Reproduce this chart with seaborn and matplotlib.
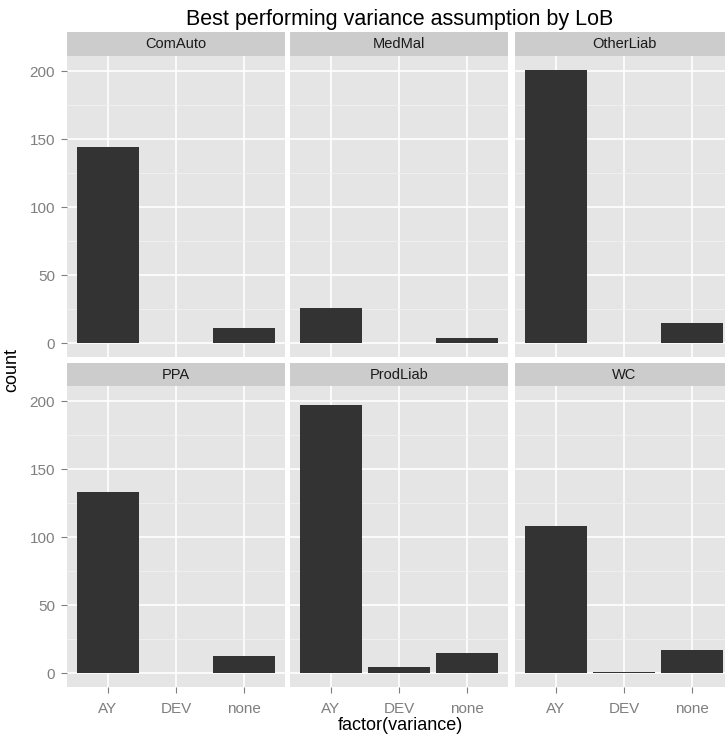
import matplotlib
matplotlib.use("Agg")
import matplotlib.pyplot as plt
import seaborn as sns
import pandas as pd

lobs = ["ComAuto", "MedMal", "OtherLiab", "PPA", "ProdLiab", "WC"]
variance = ["AY", "DEV", "none"]
comauto = [144, 0, 11]
medmal = [26, 0, 4]
otherliab = [201, 0, 15]
ppa = [133, 0, 13]
prodliab = [197, 5, 15]
wc = [108, 1, 17]
yticks = [0, 50, 100, 150, 200]
title = "Best performing variance assumption by LoB"
xlabel = "factor(variance)"
ylabel = "count"

values = [comauto, medmal, otherliab, ppa, prodliab, wc]
rows = []
for lob, vals in zip(lobs, values):
    for v, c in zip(variance, vals):
        rows.append({"LoB": lob, "variance": v, "count": c})
df = pd.DataFrame(rows)

sns.set_style("white")
plt.rcParams["font.family"] = ["Liberation Sans", "DejaVu Sans"]

W, H = 725, 739
fig = plt.figure(figsize=(W / 100, H / 100), dpi=100)

def fx(px):
    return px / W

def fy(px):
    return 1 - px / H

col_left = [67, 290, 515]
panel_w = 218
row_panel = [(56, 357), (386, 687)]
row_strip = [(32, 56), (363, 386)]

ymax = max(max(v) for v in values)
ylo, yhi = -0.05 * ymax, ymax * 1.05

for i, lob in enumerate(lobs):
    r, c = divmod(i, 3)
    x0 = col_left[c]
    t, b = row_panel[r]
    ax = fig.add_axes([fx(x0), fy(b), fx(panel_w), (b - t) / H])
    sub = df[df["LoB"] == lob]
    sns.barplot(data=sub, x="variance", y="count", order=variance,
                color="#333333", saturation=1, width=0.9, ax=ax, errorbar=None)
    for p in ax.patches:
        p.set_edgecolor("none")
    ax.set_facecolor("#E5E5E5")
    ax.set_xlim(-0.6, 2.6)
    ax.set_ylim(ylo, yhi)
    ax.set_yticks(yticks)
    ax.set_yticks([25, 75, 125, 175], minor=True)
    ax.set_axisbelow(True)
    ax.grid(which="major", color="white", lw=1.2)
    ax.grid(which="minor", axis="y", color="#F2F2F2", lw=0.6)
    for s in ax.spines.values():
        s.set_visible(False)
    ax.tick_params(which="major", length=4.5, width=0.8, color="#7F7F7F",
                   labelcolor="#7F7F7F", labelsize=11, pad=4,
                   bottom=True, left=True)
    ax.tick_params(axis="x", pad=6)
    ax.tick_params(which="minor", length=0)
    ax.set_xlabel("")
    ax.set_ylabel("")
    if c != 0:
        ax.set_yticklabels([])
        ax.tick_params(axis="y", length=0)
    if r != 1:
        ax.set_xticklabels([])
        ax.tick_params(axis="x", length=0)
    # strip
    st, sb = row_strip[r]
    sax = fig.add_axes([fx(x0), fy(sb), fx(panel_w), (sb - st) / H])
    sax.set_facecolor("#CCCCCC")
    sax.set_xticks([])
    sax.set_yticks([])
    for s in sax.spines.values():
        s.set_visible(False)
    sax.text(0.5, 0.5, lob, ha="center", va="center", fontsize=10.5,
             color="#1A1A1A", transform=sax.transAxes)

fig.text(fx(400), fy(20), title, ha="center", va="center", fontsize=15.5, color="black")
fig.text(fx(400), fy(726), xlabel, ha="center", va="center", fontsize=13, color="black")
fig.text(fx(12), fy(370), ylabel, ha="center", va="center", rotation=90,
         fontsize=13, color="black")

fig.savefig("out.png", dpi=100)
